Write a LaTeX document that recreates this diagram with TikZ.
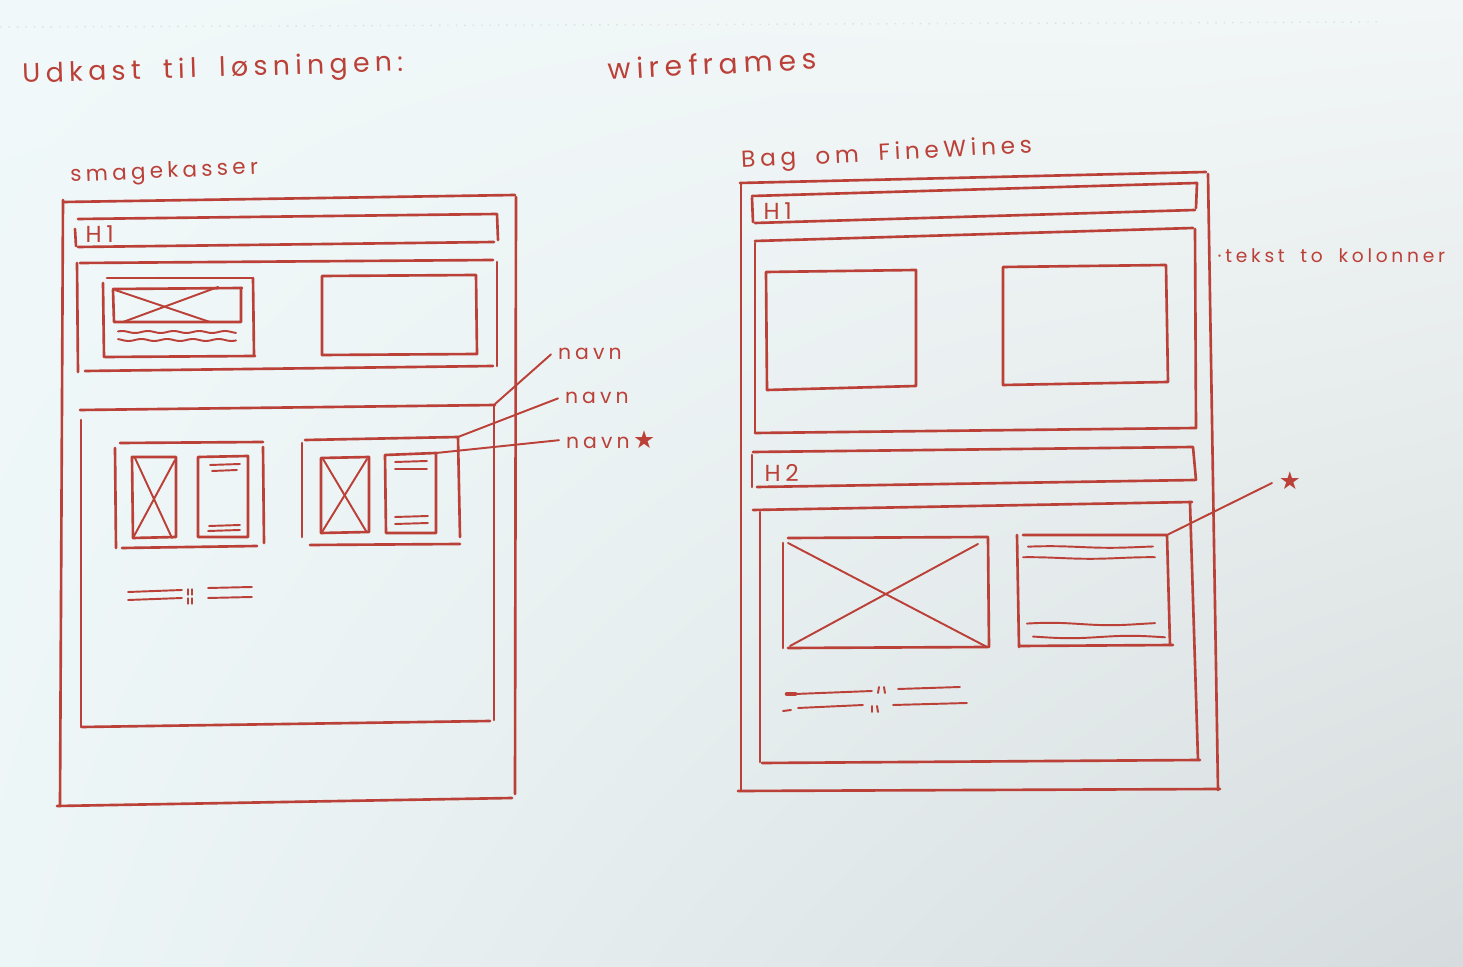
\documentclass[tikz,border=0pt]{standalone}
\usepackage{fontspec}
\newfontfamily\hand[LetterSpace=20,WordSpace=1.8]{Poppins}
\newfontfamily\symfont{DejaVu Sans}
\usetikzlibrary{calc,shadings}
\definecolor{ink}{HTML}{BA4038}
\definecolor{paperTL}{HTML}{F0F8F9}
\definecolor{paperTR}{HTML}{F2F6F6}
\definecolor{paperBL}{HTML}{EDF6F7}
\definecolor{paperBR}{HTML}{D6DCDD}
\begin{document}
\begin{tikzpicture}[x=0.01cm,y=-0.01cm,
  pen/.style={draw=ink,line width=0.75pt,line cap=round,line join=round},
  fine/.style={draw=ink,line width=0.55pt,line cap=round,line join=round},
  hw/.style={text=ink,inner sep=0pt,anchor=base west},
  big/.style={hw,font=\hand\fontsize{7.6}{8}\selectfont},
  mid/.style={hw,font=\hand\fontsize{6.6}{8}\selectfont},
  small/.style={hw,font=\hand\fontsize{5.3}{7}\selectfont},
  tag/.style={hw,outer sep=2pt,font=\hand\fontsize{5.8}{7}\selectfont},
  wave/.style={fine}]
\useasboundingbox (0,0) rectangle (1463,967);
% paper
\shade[upper left=paperTL,upper right=paperTR,lower left=paperBL,lower right=paperBR]
  (0,0) rectangle (1463,967);
\draw[black!12,line width=0.4pt,dotted] (0,27) -- (1380,22);

% ---------- headings ----------
\node[big,rotate=1.8] (tUdkast) at (22,83) {Udkast til løsningen:};
\node[big,rotate=3,font=\hand\fontsize{8}{9}\selectfont] (tWire) at (608,80) {wireframes};
\node[mid,rotate=2.5,font=\hand\fontsize{6.1}{8}\selectfont] (tSmag) at (70,182) {smagekasser};
\node[mid,rotate=3] (tBag) at (741,168) {Bag om FineWines};

% ================= left wireframe: smagekasser =================
% outer page
\draw[pen] (64,202) -- (515,195);
\draw[pen] (63,200) -- (60,806);
\draw[pen] (57,806) -- (512,798);
\draw[pen] (516,197) -- (515,794);
% H1 bar
\draw[pen] (78,219) -- (497,214) -- (498,240);
\draw[pen] (75,229) -- (76,246);
\draw[pen] (78,247) -- (494,242);
\node[mid] (tH1a) at (85,243) {H1};
% hero section
\draw[pen] (80,263) -- (493,260);
\draw[pen] (77,263) -- (78,372);
\draw[pen] (85,371) -- (493,366);
\draw[pen] (497,262) -- (497,366);
% hero card with image and text
\draw[pen] (107,278) -- (252,278);
\draw[pen] (103,283) -- (104,357);
\draw[pen] (105,357) -- (255,356);
\draw[pen] (253,278) -- (254,355);
\draw[pen] (113,289) -- (242,288);
\draw[pen] (113,290) -- (114,322) -- (241,322) -- (241,288);
\draw[fine] (115,290) -- (210,322);
\draw[fine] (123,322) -- (218,287);
\draw[wave] plot[domain=118:236,samples=60] (\x,{332+1.0*sin(\x*14)});
\draw[wave] plot[domain=118:236,samples=60] (\x,{340+1.0*sin(\x*14+90)});
% hero side box
\draw[pen] (322,276) -- (476,275) -- (477,354) -- (322,355) -- cycle;
% product section
\draw[pen] (80,410) -- (495,405);
\draw[pen] (81,420) -- (81,727);
\draw[pen] (82,727) -- (490,721);
\draw[pen] (494,405) -- (494,720);
% product card 1
\draw[pen] (120,443) -- (263,442);
\draw[pen] (115,448) -- (116,548);
\draw[pen] (122,548) -- (257,546);
\draw[pen] (263,447) -- (264,543);
\draw[pen] (132,457) -- (176,457) -- (176,537) -- (133,538) -- cycle;
\draw[fine] (135,458) -- (172,538);
\draw[fine] (133,538) -- (175,460);
\draw[pen] (198,457) -- (248,456) -- (248,537) -- (198,537) -- cycle;
\draw[fine] (210,465) -- (240,464);
\draw[fine] (212,471) -- (237,470);
\draw[fine] (209,526) -- (240,525);
\draw[fine] (208,531) -- (240,530);
% product card 2
\coordinate (cardB) at (458,437);
\draw[pen] (305,440) -- (cardB);
\draw[pen] (302,443) -- (302,537);
\draw[pen] (310,545) -- (460,544);
\draw[pen] (cardB) -- (460,537);
\draw[pen] (321,458) -- (369,457) -- (369,532) -- (321,533) -- cycle;
\draw[fine] (323,459) -- (366,531);
\draw[fine] (322,532) -- (367,459);
\coordinate (textB) at (436,453);
\draw[pen] (385,455) -- (textB) -- (436,533) -- (386,533) -- cycle;
\draw[fine] (395,462) -- (427,461);
\draw[fine] (395,469) -- (427,469);
\draw[fine] (395,517) -- (428,516);
\draw[fine] (395,524) -- (428,523);
% pagination
\draw[fine] (128,592) -- (182,590);
\draw[fine] (128,600) -- (182,598);
\draw[fine,line width=0.35pt] (188,589) -- (188,595) (192,589) -- (192,595);
\draw[fine,line width=0.35pt] (188,598) -- (188,604) (192,598) -- (192,604);
\draw[fine] (208,588) -- (252,587);
\draw[fine] (208,598) -- (252,597);
% callouts
\coordinate (secB) at (495,404);
\node[tag] (navnA) at (551,360) {navn};
\node[tag] (navnB) at (558,404) {navn};
\node[tag] (navnC) at (559,449) {navn\,{\symfont\fontsize{7}{7}\selectfont ★}};
\draw[fine] (secB) -- (navnA.west);
\draw[fine] (cardB) -- (navnB.west);
\draw[fine] (textB) -- (navnC.west);

% ================= right wireframe: Bag om FineWines =================
\draw[pen] (740,183) -- (1206,172);
\draw[pen] (741,183) -- (741,790);
\draw[pen] (738,791) -- (1220,789);
\draw[pen] (1208,174) -- (1218,790);
% H1 bar
\draw[pen] (752,196) -- (1197,183) -- (1196,208);
\draw[pen] (752,198) -- (753,222);
\draw[pen] (755,223) -- (1195,210);
\node[mid] (tH1b) at (763,220) {H1};
% two-column section
\draw[pen] (755,241) -- (1193,228);
\draw[pen] (755,243) -- (755,432);
\draw[pen] (755,433) -- (1196,428);
\draw[pen] (1195,229) -- (1196,428);
\draw[pen] (766,272) -- (916,270) -- (916,386) -- (767,390) -- cycle;
\draw[pen] (1003,267) -- (1166,265) -- (1168,382) -- (1003,385) -- cycle;
\node[small] (tKol) at (1217,263) {·tekst to kolonner};
% H2 bar
\draw[pen] (753,452) -- (1193,447) -- (1196,480);
\draw[pen] (752,455) -- (752,487);
\draw[pen] (757,487) -- (1195,480);
\node[mid] (tH2) at (764,482) {H2};
% content section
\draw[pen] (753,510) -- (1192,502);
\draw[pen] (760,512) -- (760,762);
\draw[pen] (762,763) -- (1200,760);
\draw[pen] (1190,503) -- (1198,760);
% image block
\draw[pen] (788,538) -- (988,537);
\draw[pen] (783,543) -- (783,648);
\draw[pen] (788,648) -- (988,647);
\draw[pen] (988,538) -- (989,647);
\draw[fine] (788,543) -- (987,647);
\draw[fine] (790,646) -- (978,544);
% text block
\coordinate (textR) at (1167,535);
\draw[pen] (1023,535) -- (textR) -- (1170,645);
\draw[pen] (1017,535) -- (1019,647);
\draw[pen] (1020,646) -- (1173,645);
\draw[wave] plot[domain=1028:1153,samples=40] (\x,{547+0.8*sin(\x*3)});
\draw[wave] plot[domain=1023:1155,samples=40] (\x,{558+0.8*sin(\x*3+60)});
\draw[wave] plot[domain=1027:1155,samples=40] (\x,{624+1.2*sin(\x*3)});
\draw[wave] plot[domain=1033:1165,samples=40] (\x,{637+1.2*sin(\x*3+120)});
% pagination
\draw[pen,line width=1.3pt] (787,694) -- (795,694);
\draw[fine] (795,694) -- (872,691);
\draw[fine] (879,687) -- (878,693) (884,687) -- (885,693);
\draw[fine] (898,689) -- (960,687);
\draw[fine] (783,711) -- (791,710);
\draw[fine] (798,708) -- (863,705);
\draw[fine] (872,706) -- (872,712) (877,706) -- (878,712);
\draw[fine] (893,705) -- (967,703);
% callout
\node[hw,font=\symfont\fontsize{7}{7}\selectfont,anchor=center] (starR) at (1290,481) {★};
\draw[fine] (textR) -- (1272,483);
\end{tikzpicture}
\end{document}
